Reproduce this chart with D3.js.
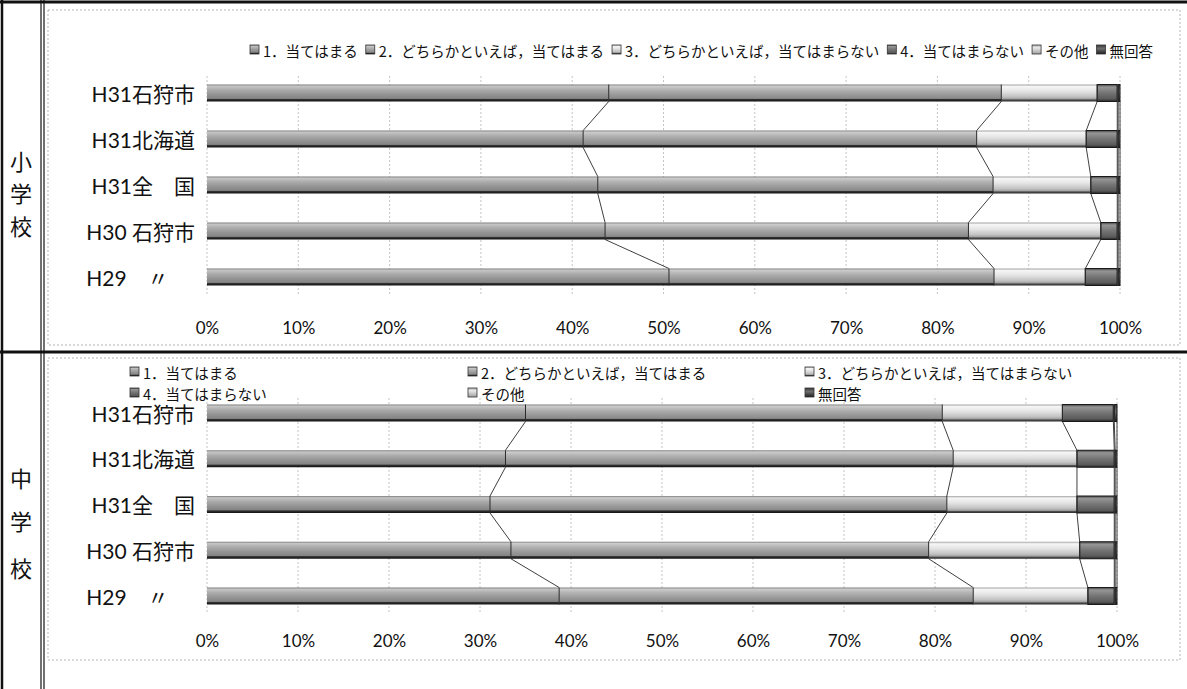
<!DOCTYPE html>
<html>
<head>
<meta charset="utf-8">
<script src="https://cdn.jsdelivr.net/npm/d3@7"></script>
<style>
  body { margin: 0; background: #fff; }
  svg { display: block; }
</style>
</head>
<body>
<svg id="chart" width="1187" height="689"></svg>
<script>
// ---- data ----
const categories = ["H31石狩市", "H31北海道", "H31全　国", "H30 石狩市", "H29　〃"];
const seriesNames = [
  "1．当てはまる",
  "2．どちらかといえば，当てはまる",
  "3．どちらかといえば，当てはまらない",
  "4．当てはまらない",
  "その他",
  "無回答"
];
// 小学校 (percent per category, series order as above)
const elementaryValues = [
  [44.0, 43.0, 10.5, 2.2, 0.1, 0.2],
  [41.2, 43.1, 12.0, 3.4, 0.1, 0.2],
  [42.8, 43.3, 10.7, 2.9, 0.1, 0.2],
  [43.6, 39.8, 14.5, 1.8, 0.1, 0.2],
  [50.6, 35.6, 10.0, 3.5, 0.1, 0.2]
];
// 中学校
const juniorValues = [
  [35.0, 45.8, 13.2, 5.6, 0.1, 0.3],
  [32.8, 49.2, 13.6, 4.1, 0.1, 0.2],
  [31.1, 50.2, 14.3, 4.1, 0.1, 0.2],
  [33.4, 45.9, 16.6, 3.8, 0.1, 0.2],
  [38.7, 45.5, 12.6, 2.9, 0.1, 0.2]
];
const tickValues = [0, 10, 20, 30, 40, 50, 60, 70, 80, 90, 100];
const schoolLabels = ["小学校", "中学校"];

// ---- drawing ----
const svg = d3.select("#chart");
const defs = svg.append("defs");

const CJK = "'Noto Sans CJK JP', sans-serif";
const LATIN = "Lato, 'Noto Sans CJK JP', sans-serif";

// cylinder-like vertical shading for each series
const shading = [
  [[0, "#7a7a7a"], [0.1, "#c6c6c6"], [0.3, "#adadad"], [0.6, "#939393"], [0.82, "#848484"], [0.87, "#333"], [1, "#111"]],
  [[0, "#7e7e7e"], [0.1, "#cccccc"], [0.3, "#b4b4b4"], [0.6, "#9a9a9a"], [0.82, "#8a8a8a"], [0.87, "#333"], [1, "#111"]],
  [[0, "#a4a4a4"], [0.12, "#f6f6f6"], [0.4, "#e4e4e4"], [0.72, "#c2c2c2"], [0.85, "#a0a0a0"], [0.9, "#505050"], [1, "#2a2a2a"]],
  [[0, "#444"], [0.15, "#969696"], [0.5, "#747474"], [0.85, "#5a5a5a"], [1, "#222"]],
  [[0, "#b0b0b0"], [0.3, "#e8e8e8"], [1, "#a0a0a0"]],
  [[0, "#3a3a3a"], [0.4, "#6e6e6e"], [1, "#1e1e1e"]]
];
shading.forEach((stops, i) => {
  const g = defs.append("linearGradient")
    .attr("id", "shade" + i)
    .attr("x1", 0).attr("y1", 0).attr("x2", 0).attr("y2", 1);
  stops.forEach(s => g.append("stop").attr("offset", s[0]).attr("stop-color", s[1]));
});
const segStroke = ["none", "none", "none", "#1a1a1a", "none", "#1a1a1a"];

// table frame
const frame = svg.append("g").attr("fill", "none").attr("stroke", "#111");
frame.append("line").attr("x1", 0).attr("x2", 1187).attr("y1", 2).attr("y2", 2).attr("stroke-width", 3);
frame.append("line").attr("x1", 2).attr("x2", 2).attr("y1", 0).attr("y2", 689).attr("stroke-width", 2.5);
frame.append("line").attr("x1", 41).attr("x2", 41).attr("y1", 0).attr("y2", 689).attr("stroke-width", 1.2);
frame.append("line").attr("x1", 44).attr("x2", 44).attr("y1", 0).attr("y2", 689).attr("stroke-width", 1.2);
frame.append("line").attr("x1", 0).attr("x2", 1187).attr("y1", 352).attr("y2", 352).attr("stroke-width", 3);

const panels = [
  { values: elementaryValues, box: [48, 10, 1180, 345], rows: [93, 277], grid: [76, 296],
    tickY: 327, xr: [207, 1120], chars: [160, 192, 225],
    legend: { type: "line", x: 250, y: 50 } },
  { values: juniorValues, box: [48, 358, 1180, 660], rows: [413, 596], grid: [398, 614],
    tickY: 640, xr: [207, 1117], chars: [477, 520, 567],
    legend: { type: "grid", cols: [130, 468, 805], rowsY: [372, 393] } }
];

const barH = 17;

function legendIcon(g, i) {
  g.append("rect").attr("x", 0).attr("y", -5).attr("width", 9).attr("height", 9)
    .attr("fill", `url(#shade${i})`).attr("stroke", "#333").attr("stroke-width", 0.8);
}

panels.forEach((p, pi) => {
  const g = svg.append("g");

  // chart area border
  g.append("rect")
    .attr("x", p.box[0]).attr("y", p.box[1])
    .attr("width", p.box[2] - p.box[0]).attr("height", p.box[3] - p.box[1])
    .attr("fill", "none").attr("stroke", "#b5b5b5").attr("stroke-dasharray", "2,2");

  // school name, one character per line
  Array.from(schoolLabels[pi]).forEach((ch, k) => {
    g.append("text").attr("x", 21).attr("y", p.chars[k])
      .attr("text-anchor", "middle").attr("dominant-baseline", "central")
      .attr("font-family", CJK).attr("font-size", 22).attr("fill", "#111").text(ch);
  });

  const x = d3.scaleLinear().domain([0, 100]).range(p.xr);
  const y = d3.scalePoint().domain(categories).range(p.rows);

  // vertical gridlines
  g.append("g").selectAll("line").data(tickValues).join("line")
    .attr("x1", d => x(d)).attr("x2", d => x(d))
    .attr("y1", p.grid[0]).attr("y2", p.grid[1])
    .attr("stroke", "#c4c4c4").attr("stroke-dasharray", "2,2");

  // stacked data
  const rows = categories.map((c, i) => {
    let acc = 0;
    return p.values[i].map((v, k) => {
      const s = { cat: c, k, x0: acc, x1: acc + v };
      acc += v;
      return s;
    });
  });

  // series lines connecting segment ends between neighbouring bars
  const sl = g.append("g").attr("stroke", "#2a2a2a").attr("stroke-width", 0.9);
  for (let k = 0; k < seriesNames.length; k++) {
    for (let i = 0; i < categories.length - 1; i++) {
      sl.append("line")
        .attr("x1", x(rows[i][k].x1)).attr("y1", y(categories[i]) + barH / 2)
        .attr("x2", x(rows[i + 1][k].x1)).attr("y2", y(categories[i + 1]) - barH / 2);
    }
  }

  // bars
  const bars = g.append("g");
  rows.forEach(r => {
    bars.selectAll(null).data(r).join("rect")
      .attr("x", d => x(d.x0))
      .attr("y", d => y(d.cat) - barH / 2)
      .attr("width", d => Math.max(0, x(d.x1) - x(d.x0)))
      .attr("height", barH)
      .attr("fill", d => `url(#shade${d.k})`)
      .attr("stroke", d => segStroke[d.k])
      .attr("stroke-width", 1);
    // dark edge where one segment meets the next
    bars.selectAll(null).data(r.slice(1)).join("line")
      .attr("x1", d => x(d.x0)).attr("x2", d => x(d.x0))
      .attr("y1", d => y(d.cat) - barH / 2).attr("y2", d => y(d.cat) + barH / 2)
      .attr("stroke", "#2a2a2a").attr("stroke-width", 1);
  });

  // category labels
  const lab = g.append("g");
  categories.forEach(c => {
    lab.append("text").attr("x", 195).attr("y", y(c))
      .attr("text-anchor", "end").attr("dominant-baseline", "central")
      .attr("font-family", LATIN).attr("font-size", 21).attr("fill", "#111")
      .text(c);
  });
  // the ditto row starts where the row above starts
  const labs = lab.selectAll("text").nodes();
  const ref = labs[3].getBBox();
  d3.select(labs[4]).attr("text-anchor", "start").attr("x", ref.x);

  // percent axis
  const axis = d3.axisBottom(x).tickValues(tickValues).tickFormat(d => d + "%").tickSize(0).tickPadding(0);
  const ax = g.append("g").attr("transform", `translate(0,${p.tickY})`).call(axis);
  ax.select(".domain").remove();
  ax.selectAll("text").attr("font-family", LATIN).attr("font-size", 17).attr("fill", "#111")
    .attr("dy", null).attr("dominant-baseline", "central");

  // legend
  const lg = g.append("g").attr("font-family", CJK).attr("font-size", 14.5).attr("fill", "#111");
  if (p.legend.type === "line") {
    let cx = p.legend.x;
    seriesNames.forEach((name, i) => {
      const it = lg.append("g").attr("transform", `translate(${cx},${p.legend.y})`);
      legendIcon(it, i);
      const t = it.append("text").attr("x", 13).attr("y", 0).attr("dominant-baseline", "central").text(name);
      cx += 13 + t.node().getComputedTextLength() + 8;
    });
  } else {
    seriesNames.forEach((name, i) => {
      const cx = p.legend.cols[i % 3], cy = p.legend.rowsY[Math.floor(i / 3)];
      const it = lg.append("g").attr("transform", `translate(${cx},${cy})`);
      legendIcon(it, i);
      it.append("text").attr("x", 13).attr("y", 0).attr("dominant-baseline", "central").text(name);
    });
  }
});
</script>
</body>
</html>
